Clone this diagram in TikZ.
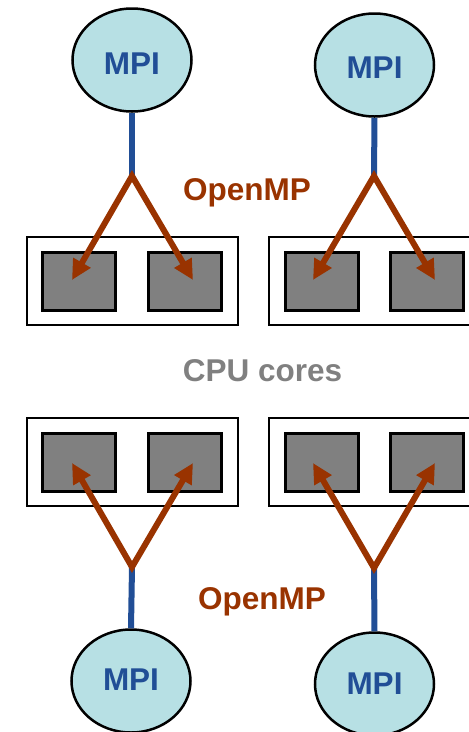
\documentclass[tikz,border=0pt]{standalone}
\usepackage{fontspec}
\setmainfont{Liberation Sans}
\usetikzlibrary{arrows.meta,shapes.geometric}
\definecolor{mpifill}{RGB}{183,224,228}
\definecolor{mpiblue}{RGB}{33,78,150}
\definecolor{ompbrown}{RGB}{153,51,0}
\definecolor{coregray}{RGB}{128,128,128}
\begin{document}
\begin{tikzpicture}[x=1pt,y=-1pt,
  mpinode/.style={ellipse, draw=black, line width=2.5pt, fill=mpifill,
    minimum width=119pt, minimum height=103pt, inner sep=0pt},
  mpitext/.style={inner sep=0pt, text=mpiblue, font=\fontsize{31.5}{31.5}\selectfont\bfseries},
  nodebox/.style={draw=black, line width=2.5pt, fill=white, minimum width=211pt,
    minimum height=88pt, inner sep=0pt},
  corebox/.style={draw=black, line width=3pt, fill=coregray, minimum width=73pt,
    minimum height=58pt, inner sep=0pt},
  stem/.style={draw=mpiblue, line width=6pt},
  omparrow/.style={draw=ompbrown, line width=6pt,
    {Triangle[length=20pt,width=19pt]}-{Triangle[length=20pt,width=19pt]}},
  omptext/.style={inner sep=0pt, text=ompbrown, font=\fontsize{31.5}{31.5}\selectfont\bfseries},
  cputext/.style={inner sep=0pt, text=coregray, font=\fontsize{31.5}{31.5}\selectfont\bfseries}
]
\useasboundingbox (0,0) rectangle (469,732);

% ---------- top half ----------
\node[nodebox] (boxA) at (132.5,281) {};
\node[nodebox] (boxB) at (374.5,281) {};
\node[corebox] (cA1) at (79,281.5) {};
\node[corebox] (cA2) at (184.5,281.5) {};
\node[corebox] (cB1) at (321.5,281.5) {};
\node[corebox] (cB2) at (426.5,281.5) {};

\node[mpinode] (mpiA) at (132,60) {};
\node[mpitext] at ([yshift=-4pt]mpiA.center) {MPI};
\node[mpinode] (mpiB) at (374.5,65) {};
\node[mpitext] at ([yshift=-3pt]mpiB.center) {MPI};

\coordinate (apexA) at (132,176);
\coordinate (apexB) at (374,176);
\coordinate (tA1) at (72,280);
\coordinate (tA2) at (193,280);
\coordinate (tB1) at (313,280);
\coordinate (tB2) at (435,280);

\draw[stem] (mpiA.south) -- (apexA);
\draw[stem] (mpiB.south) -- (apexB);
\draw[omparrow] (tA1) -- (apexA) -- (tA2);
\draw[omparrow] (tB1) -- (apexB) -- (tB2);

\node[omptext] (ompTop) at (247,193) {OpenMP};
\node[cputext] (cpu) at (262.5,371) {CPU cores};

% ---------- bottom half ----------
\node[nodebox] (boxC) at (132.5,462) {};
\node[nodebox] (boxD) at (374.5,462) {};
\node[corebox] (cC1) at (79,462.5) {};
\node[corebox] (cC2) at (184.5,462.5) {};
\node[corebox] (cD1) at (321.5,462.5) {};
\node[corebox] (cD2) at (426.5,462.5) {};

\node[mpinode] (mpiC) at (131,681) {};
\node[mpitext] at ([yshift=1pt]mpiC.center) {MPI};
\node[mpinode] (mpiD) at (374.5,684) {};
\node[mpitext] at ([yshift=0pt]mpiD.center) {MPI};

\coordinate (apexC) at (132,567);
\coordinate (apexD) at (374,568);
\coordinate (tC1) at (72,463);
\coordinate (tC2) at (193,463);
\coordinate (tD1) at (313,463);
\coordinate (tD2) at (435,463);

\draw[stem] (mpiC.north) -- (apexC);
\draw[stem] (mpiD.north) -- (apexD);
\draw[omparrow] (tC1) -- (apexC) -- (tC2);
\draw[omparrow] (tD1) -- (apexD) -- (tD2);

\node[omptext] (ompBot) at (262,602) {OpenMP};
\end{tikzpicture}
\end{document}
